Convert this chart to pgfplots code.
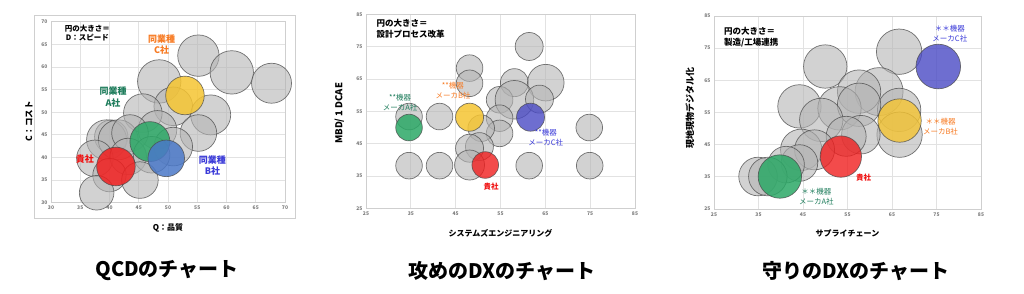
\documentclass[border=0pt]{standalone}
\usepackage{fontspec}
\setmainfont{Noto Sans CJK JP}
\usepackage{pgfplots}
\pgfplotsset{compat=1.18}
\usepackage{pgfplotstable}

\definecolor{gridc}{HTML}{E2E2E2}
\definecolor{axc}{HTML}{CFCFCF}
\definecolor{tickc}{HTML}{7A7A7A}
\definecolor{bgray}{HTML}{B4B4B4}
\definecolor{edgec}{HTML}{4A4A4A}
\definecolor{bred}{HTML}{F01E1E}
\definecolor{bgreen}{HTML}{2BA866}
\definecolor{bblue}{HTML}{4A78C8}
\definecolor{bpurple}{HTML}{4A4AC4}
\definecolor{byellow}{HTML}{F5C431}
\definecolor{lorange}{HTML}{F77A22}
\definecolor{lteal}{HTML}{1F7D5C}
\definecolor{lblue}{HTML}{3A3AD8}
\definecolor{lred}{HTML}{F01010}

% ---------- Chart 1: QCD ----------
\pgfplotstableread{
x y r
55.2 62.5 20.7
60.9 58.8 21.7
67.7 56.4 20.0
48.5 56.8 21.7
50.9 51.3 19.3
57.3 49.4 20.0
45.7 49.8 19.3
48.2 46.1 19.3
55.2 45.4 18.3
50.9 42.4 19.3
40.3 44.6 16.7
39.5 43.9 20.0
41.5 43.9 20.0
43.5 45.4 18.3
37.5 39.8 18.3
43.2 40.2 18.3
47.2 40.6 18.3
40.0 36.1 16.7
45.2 35.0 18.3
37.8 32.2 17.3
}\qcdgray
\pgfplotstableread{
x y r
46.9 43.5 20.0
}\qcdgreen
\pgfplotstableread{
x y r
49.7 39.8 18.3
}\qcdblue
\pgfplotstableread{
x y r
52.9 53.7 19.3
}\qcdyellow
\pgfplotstableread{
x y r
41.1 38.0 19.3
}\qcdred

% ---------- Chart 2: offensive DX ----------
\pgfplotstableread{
x y r
61.4 75.1 14.0
48.1 68.4 13.3
48.1 63.7 13.3
58.1 63.9 14.0
65.1 63.9 18.3
54.8 58.6 13.3
58.1 58.6 19.3
63.7 58.8 14.0
54.8 52.9 13.3
54.8 48.2 13.3
34.6 53.4 13.3
41.4 53.4 13.3
50.7 49.8 13.3
74.8 50.0 13.3
50.3 44.1 14.0
48.1 43.6 14.0
48.1 38.4 15.0
34.6 38.2 13.3
41.4 38.2 13.3
61.4 38.2 13.3
74.9 38.2 13.3
}\atkgray
\pgfplotstableread{
x y r
34.6 50.0 13.3
}\atkgreen
\pgfplotstableread{
x y r
48.1 53.2 14.0
}\atkyellow
\pgfplotstableread{
x y r
61.7 53.2 14.0
}\atkblue
\pgfplotstableread{
x y r
51.6 38.4 13.3
}\atkred

% ---------- Chart 3: defensive DX ----------
\pgfplotstableread{
x y r
66.6 73.9 22.7
50.0 69.3 21.7
44.2 56.9 21.7
62.1 61.5 24.0
57.6 61.5 21.7
66.6 55.8 21.7
53.2 56.3 21.7
57.6 57.4 21.7
49.1 52.7 21.7
66.7 48.1 22.7
58.0 48.1 19.3
54.7 47.6 20.0
44.6 43.4 20.7
47.6 43.4 20.0
44.2 39.3 18.3
41.2 38.8 18.3
34.9 35.1 19.3
37.1 35.1 19.3
}\defgray
\pgfplotstableread{
x y r
75.4 69.3 22.3
}\defblue
\pgfplotstableread{
x y r
66.7 52.5 21.7
}\defyellow
\pgfplotstableread{
x y r
53.5 41.3 20.7
}\defred
\pgfplotstableread{
x y r
39.8 35.1 21.7
}\defgreen

\pgfplotsset{
  bub/.style={
    scale only axis, clip=true, axis lines=box,
    grid=major, major tick length=0pt,
    grid style={draw=gridc, line width=0.8pt},
    axis line style={draw=axc, line width=0.8pt},
    tick label style={font=\fontsize{5}{6}\selectfont\bfseries, text=tickc},
    /pgf/number format/assume math mode=true,
    xlabel style={font=\fontsize{8}{9}\selectfont\bfseries, anchor=center},
    ylabel style={font=\fontsize{8.5}{9}\selectfont\bfseries, anchor=center, rotate=0},
  },
  bubble/.style 2 args={
    scatter, only marks, mark=*,
    scatter/use mapped color={draw=edgec, fill=#1, fill opacity=#2, draw opacity=0.75},
    mark options={line width=0.7pt},
    visualization depends on={\thisrow{r}\as\rr},
    scatter/@pre marker code/.append style={/tikz/mark size=\rr},
  },
}

\begin{document}
\begin{tikzpicture}[x=1pt,y=1pt]
\useasboundingbox (0,0) rectangle (1024,293);
\draw[draw=axc, line width=1pt] (34,75) rectangle (295,278);

% ===== Chart 1 =====
\begin{axis}[bub, at={(51pt,90.3pt)}, anchor=south west,
  width=234pt, height=181pt,
  xmin=30, xmax=70, ymin=30, ymax=70,
  xtick={30,35,...,70}, ytick={30,35,...,70},
  xlabel={Q：品質}, ylabel={C：コスト},
  xlabel style={at={(axis description cs:0.5,-0.14)}},
  ylabel style={at={(axis description cs:-0.094,0.45)}},
  extra description/.code={
    \node[font=\fontsize{7.5}{9.3}\selectfont\bfseries, align=center] at (axis cs:36.2,67.45) {円の大きさ＝\\D：スピード};
    \node[font=\fontsize{9}{11.4}\selectfont\bfseries, align=center, text=lorange] at (axis cs:48.9,64.9) {同業種\\C社};
    \node[font=\fontsize{9}{11.4}\selectfont\bfseries, align=center, text=lteal] at (axis cs:40.6,53.35) {同業種\\A社};
    \node[font=\fontsize{9}{11.4}\selectfont\bfseries, align=center, text=lblue] at (axis cs:57.6,38.15) {同業種\\B社};
    \node[font=\fontsize{9}{11.4}\selectfont\bfseries, text=lred] at (axis cs:35.8,39.7) {貴社};
  },
]
\addplot[bubble={bgray}{0.6}] table[x=x,y=y,meta=r]{\qcdgray};
\addplot[bubble={bgreen}{0.85}] table[x=x,y=y,meta=r]{\qcdgreen};
\addplot[bubble={bblue}{0.85}] table[x=x,y=y,meta=r]{\qcdblue};
\addplot[bubble={byellow}{0.85}] table[x=x,y=y,meta=r]{\qcdyellow};
\addplot[bubble={bred}{0.85}] table[x=x,y=y,meta=r]{\qcdred};
\end{axis}

% ===== Chart 2 =====
\begin{axis}[bub, at={(366pt,84.7pt)}, anchor=south west,
  width=269pt, height=193.8pt,
  xmin=25, xmax=85, ymin=25, ymax=85,
  xtick={25,35,...,85}, ytick={25,35,...,85},
  xlabel={システムズエンジニアリング}, ylabel={MBD/ 1 DCAE},
  xlabel style={at={(axis description cs:0.5,-0.129)}},
  ylabel style={at={(axis description cs:-0.099,0.49)}, font=\fontsize{9.5}{10}\selectfont\bfseries},
  extra description/.code={
    \node[font=\fontsize{8.5}{11}\selectfont\bfseries, align=left, anchor=west] at (axis cs:26.6,80.6) {円の大きさ＝\\設計プロセス改革};
    \node[font=\fontsize{7.5}{10}\selectfont, align=center, text=lteal] at (axis cs:32.6,57.75) {**機器\\メーカA社};
    \node[font=\fontsize{7.5}{10}\selectfont, align=center, text=lorange] at (axis cs:44.4,61.35) {**機器\\メーカB社};
    \node[font=\fontsize{7.5}{10}\selectfont, align=center, text=lblue] at (axis cs:65.1,46.85) {**機器\\メーカC社};
    \node[font=\fontsize{7.5}{9}\selectfont\bfseries, text=lred] at (axis cs:52.9,31.7) {貴社};
  },
]
\addplot[bubble={bgray}{0.6}] table[x=x,y=y,meta=r]{\atkgray};
\addplot[bubble={bgreen}{0.85}] table[x=x,y=y,meta=r]{\atkgreen};
\addplot[bubble={byellow}{0.85}] table[x=x,y=y,meta=r]{\atkyellow};
\addplot[bubble={bpurple}{0.8}] table[x=x,y=y,meta=r]{\atkblue};
\addplot[bubble={bred}{0.8}] table[x=x,y=y,meta=r]{\atkred};
\end{axis}

% ===== Chart 3 =====
\begin{axis}[bub, at={(714pt,84pt)}, anchor=south west,
  width=267pt, height=193pt,
  xmin=25, xmax=85, ymin=25, ymax=85,
  xtick={25,35,...,85}, ytick={25,35,...,85},
  xlabel={サプライチェーン}, ylabel={現地現物デジタル化},
  xlabel style={at={(axis description cs:0.5,-0.126)}},
  ylabel style={at={(axis description cs:-0.09,0.523)}, font=\fontsize{9}{10}\selectfont\bfseries},
  extra description/.code={
    \node[font=\fontsize{8.5}{11}\selectfont\bfseries, align=left, anchor=west] at (axis cs:26.5,78.4) {円の大きさ＝\\製造/工場連携};
    \node[font=\fontsize{7.5}{10}\selectfont, align=center, text=lblue] at (axis cs:78.0,79.65) {＊＊機器\\メーカC社};
    \node[font=\fontsize{7.5}{10}\selectfont, align=center, text=lorange] at (axis cs:75.9,50.65) {＊＊機器\\メーカB社};
    \node[font=\fontsize{7.5}{9}\selectfont\bfseries, text=lred] at (axis cs:58.6,34.6) {貴社};
    \node[font=\fontsize{7.5}{10}\selectfont, align=center, text=lteal] at (axis cs:48.0,28.8) {＊＊機器\\メーカA社};
  },
]
\addplot[bubble={bgray}{0.6}] table[x=x,y=y,meta=r]{\defgray};
\addplot[bubble={bpurple}{0.8}] table[x=x,y=y,meta=r]{\defblue};
\addplot[bubble={byellow}{0.8}] table[x=x,y=y,meta=r]{\defyellow};
\addplot[bubble={bred}{0.8}] table[x=x,y=y,meta=r]{\defred};
\addplot[bubble={bgreen}{0.85}] table[x=x,y=y,meta=r]{\defgreen};
\end{axis}

% ===== Captions =====
\node[font=\fontsize{20}{22}\selectfont\bfseries] at (167,22) {QCDのチャート};
\node[font=\fontsize{20}{22}\selectfont\bfseries] at (502,22) {攻めのDXのチャート};
\node[font=\fontsize{20}{22}\selectfont\bfseries] at (856,22) {守りのDXのチャート};
\end{tikzpicture}
\end{document}
